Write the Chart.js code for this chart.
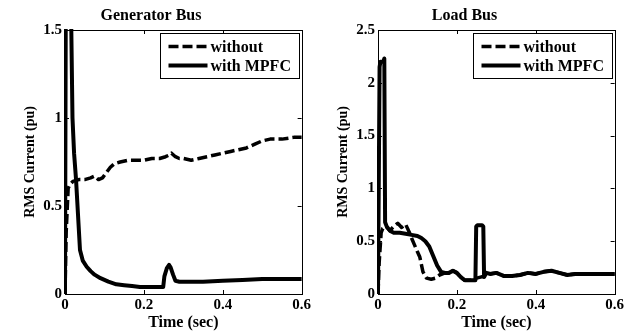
<!DOCTYPE html>
<html>
<head>
<meta charset="utf-8">
<script src="https://cdn.jsdelivr.net/npm/chart.js@4.4.0/dist/chart.umd.min.js"></script>
<style>
  html, body { margin: 0; padding: 0; background: #fff; }
  .box { position: absolute; top: 0; width: 313px; height: 331px; }
  #left { left: 0; }
  #right { left: 313px; }
</style>
</head>
<body>
<div class="box" id="left"><canvas id="genChart"></canvas></div>
<div class="box" id="right"><canvas id="loadChart"></canvas></div>
<script>
// tick labels
const timeTicks = [0, 0.2, 0.4, 0.6];
const genTicks = [0, 0.5, 1, 1.5];
const loadTicks = [0, 0.5, 1, 1.5, 2, 2.5];
const seriesNames = ['without', 'with MPFC'];

// Generator bus - without MPFC (dashed)
const genWithoutT = [0, 0.003, 0.008, 0.012, 0.02, 0.035, 0.05, 0.065, 0.075, 0.085, 0.095, 0.105, 0.115, 0.125, 0.14, 0.16, 0.18, 0.2, 0.22, 0.24, 0.255, 0.265, 0.27, 0.28, 0.29, 0.3, 0.32, 0.34, 0.36, 0.38, 0.4, 0.42, 0.44, 0.46, 0.48, 0.5, 0.52, 0.55, 0.58, 0.6];
const genWithoutI = [0, 0.35, 0.6, 0.62, 0.64, 0.65, 0.65, 0.66, 0.67, 0.65, 0.66, 0.69, 0.72, 0.74, 0.75, 0.76, 0.76, 0.76, 0.77, 0.77, 0.78, 0.79, 0.8, 0.78, 0.77, 0.77, 0.76, 0.77, 0.78, 0.79, 0.8, 0.81, 0.82, 0.83, 0.85, 0.87, 0.88, 0.88, 0.89, 0.89];

// Generator bus - with MPFC (solid)
const genWithT = [0, 0.003, 0.012, 0.016, 0.019, 0.023, 0.028, 0.033, 0.038, 0.045, 0.055, 0.065, 0.075, 0.09, 0.11, 0.13, 0.15, 0.17, 0.19, 0.21, 0.23, 0.249, 0.252, 0.258, 0.264, 0.268, 0.274, 0.28, 0.29, 0.3, 0.35, 0.4, 0.45, 0.5, 0.55, 0.6];
const genWithI = [0, 2.5, 2.5, 1.5, 1.0, 0.8, 0.65, 0.45, 0.25, 0.19, 0.155, 0.13, 0.11, 0.09, 0.07, 0.055, 0.05, 0.045, 0.04, 0.04, 0.04, 0.04, 0.1, 0.145, 0.165, 0.15, 0.11, 0.075, 0.07, 0.07, 0.07, 0.075, 0.08, 0.085, 0.085, 0.085];

// Load bus - without MPFC (dashed)
const loadWithoutT = [0, 0.003, 0.008, 0.012, 0.02, 0.03, 0.04, 0.05, 0.06, 0.07, 0.08, 0.085, 0.093, 0.1, 0.106, 0.114, 0.123, 0.135, 0.145, 0.156, 0.17, 0.18, 0.19, 0.2, 0.21, 0.22, 0.235, 0.25, 0.26, 0.27, 0.28, 0.3, 0.32, 0.34, 0.36, 0.38, 0.4, 0.42, 0.44, 0.46, 0.48, 0.5, 0.53, 0.56, 0.6];
const loadWithoutI = [0, 0.3, 0.58, 0.62, 0.64, 0.6, 0.64, 0.67, 0.63, 0.66, 0.58, 0.53, 0.46, 0.4, 0.35, 0.21, 0.15, 0.14, 0.15, 0.18, 0.2, 0.2, 0.22, 0.2, 0.16, 0.13, 0.13, 0.15, 0.16, 0.17, 0.19, 0.2, 0.17, 0.17, 0.18, 0.2, 0.19, 0.21, 0.22, 0.2, 0.18, 0.19, 0.19, 0.19, 0.19];

// Load bus - with MPFC (solid)
const loadWithT = [0, 0.004, 0.006, 0.01, 0.014, 0.016, 0.018, 0.022, 0.03, 0.04, 0.055, 0.07, 0.085, 0.1, 0.11, 0.12, 0.13, 0.14, 0.15, 0.16, 0.17, 0.18, 0.19, 0.2, 0.21, 0.22, 0.235, 0.247, 0.249, 0.252, 0.264, 0.267, 0.269, 0.275, 0.285, 0.3, 0.32, 0.34, 0.36, 0.38, 0.4, 0.42, 0.44, 0.46, 0.48, 0.5, 0.53, 0.56, 0.6];
const loadWithI = [0, 2.15, 2.2, 2.2, 2.2, 2.23, 0.68, 0.64, 0.6, 0.58, 0.58, 0.57, 0.56, 0.55, 0.53, 0.5, 0.45, 0.36, 0.27, 0.21, 0.2, 0.2, 0.22, 0.2, 0.16, 0.13, 0.13, 0.13, 0.64, 0.65, 0.65, 0.64, 0.16, 0.2, 0.19, 0.2, 0.17, 0.17, 0.18, 0.2, 0.19, 0.21, 0.22, 0.2, 0.18, 0.19, 0.19, 0.19, 0.19];

const FONT = "'Liberation Serif', 'Times New Roman', serif";

function pairs(xs, ys) {
    return xs.map((x, i) => ({ x: x, y: ys[i] }));
}

// kotak plot + tick ke dalam (gaya MATLAB)
const framePlugin = {
    id: 'frame',
    afterDatasetsDraw(chart) {
        const { ctx, chartArea: a, scales } = chart;
        ctx.save();
        ctx.strokeStyle = '#000';
        ctx.lineWidth = 1;
        ctx.beginPath();
        scales.x.ticks.forEach(t => {
            const px = Math.round(scales.x.getPixelForValue(t.value)) + 0.5;
            ctx.moveTo(px, a.bottom); ctx.lineTo(px, a.bottom - 4);
            ctx.moveTo(px, a.top); ctx.lineTo(px, a.top + 4);
        });
        scales.y.ticks.forEach(t => {
            const py = Math.round(scales.y.getPixelForValue(t.value)) + 0.5;
            ctx.moveTo(a.left, py); ctx.lineTo(a.left + 4, py);
            ctx.moveTo(a.right, py); ctx.lineTo(a.right - 4, py);
        });
        ctx.stroke();
        ctx.strokeRect(Math.round(a.left) + 0.5, Math.round(a.top) + 0.5,
            Math.round(a.right - a.left), Math.round(a.bottom - a.top));
        ctx.restore();
    }
};

// legenda di dalam area plot, pojok kanan atas
const legendPlugin = {
    id: 'boxLegend',
    afterDraw(chart) {
        const { ctx, chartArea: a } = chart;
        const w = 139, h = 45;
        const bx = Math.round(a.right - 3 - w) + 0.5;
        const by = Math.round(a.top + 3) + 0.5;
        ctx.save();
        ctx.fillStyle = '#fff';
        ctx.fillRect(bx, by, w, h);
        ctx.strokeStyle = '#000';
        ctx.lineWidth = 1;
        ctx.strokeRect(bx, by, w, h);
        chart.data.datasets.forEach((ds, i) => {
            const y = by + 13 + i * 19;
            ctx.beginPath();
            ctx.setLineDash(ds.borderDash || []);
            ctx.lineWidth = ds.borderWidth;
            ctx.strokeStyle = ds.borderColor;
            ctx.moveTo(bx + 8, y);
            ctx.lineTo(bx + 47, y);
            ctx.stroke();
            ctx.setLineDash([]);
            ctx.fillStyle = '#000';
            ctx.font = 'bold 16px ' + FONT;
            ctx.textBaseline = 'middle';
            ctx.textAlign = 'left';
            ctx.fillText(ds.label, bx + 50, y + 1);
        });
        ctx.restore();
    }
};

function makeChart(id, title, yMax, yTicks, woT, woI, wT, wI, padRight) {
    const ctx = document.getElementById(id).getContext('2d');
    return new Chart(ctx, {
        type: 'line',
        data: {
            datasets: [{
                label: seriesNames[0],
                data: pairs(woT, woI),
                borderColor: '#000',
                borderWidth: 3.5,
                borderDash: [10, 4],
                borderJoinStyle: 'round',
                pointRadius: 0,
                tension: 0,
                clip: 1,
                order: 1
            }, {
                label: seriesNames[1],
                data: pairs(wT, wI),
                borderColor: '#000',
                borderWidth: 4,
                borderJoinStyle: 'round',
                pointRadius: 0,
                tension: 0,
                clip: 1,
                order: 0
            }]
        },
        options: {
            responsive: true,
            maintainAspectRatio: false,
            animation: false,
            layout: { padding: { left: 0, right: padRight, top: 0, bottom: 0 } },
            plugins: {
                legend: { display: false },
                tooltip: { enabled: false },
                title: {
                    display: true,
                    text: title,
                    color: '#000',
                    font: { family: FONT, size: 16, weight: 'bold' },
                    padding: { top: 6, bottom: 4.8 }
                }
            },
            scales: {
                x: {
                    type: 'linear',
                    min: 0, max: 0.6,
                    afterBuildTicks: s => { s.ticks = timeTicks.map(v => ({ value: v })); },
                    afterFit: s => { s.height = 37; },
                    grid: { display: false, drawTicks: false },
                    border: { display: false },
                    ticks: {
                        color: '#000', padding: 2,
                        font: { family: FONT, size: 15, weight: 'bold' },
                        callback: v => String(v)
                    },
                    title: {
                        display: true, text: 'Time (sec)', color: '#000',
                        font: { family: FONT, size: 16, weight: 'bold' },
                        padding: { top: 0, bottom: -1.5 }
                    }
                },
                y: {
                    min: 0, max: yMax,
                    afterBuildTicks: s => { s.ticks = yTicks.map(v => ({ value: v })); },
                    afterFit: s => { s.width = 65; },
                    grid: { display: false, drawTicks: false },
                    border: { display: false },
                    ticks: {
                        color: '#000', padding: 3,
                        font: { family: FONT, size: 15, weight: 'bold' },
                        callback: v => String(v)
                    },
                    title: {
                        display: true, text: 'RMS Current (pu)', color: '#000',
                        font: { family: FONT, size: 14, weight: 'bold' },
                        padding: { top: 22, bottom: 0 }
                    }
                }
            }
        },
        plugins: [framePlugin, legendPlugin]
    });
}

makeChart('genChart', 'Generator Bus', 1.5, genTicks, genWithoutT, genWithoutI, genWithT, genWithI, 11);
makeChart('loadChart', 'Load Bus', 2.5, loadTicks, loadWithoutT, loadWithoutI, loadWithT, loadWithI, 10);
</script>
</body>
</html>
